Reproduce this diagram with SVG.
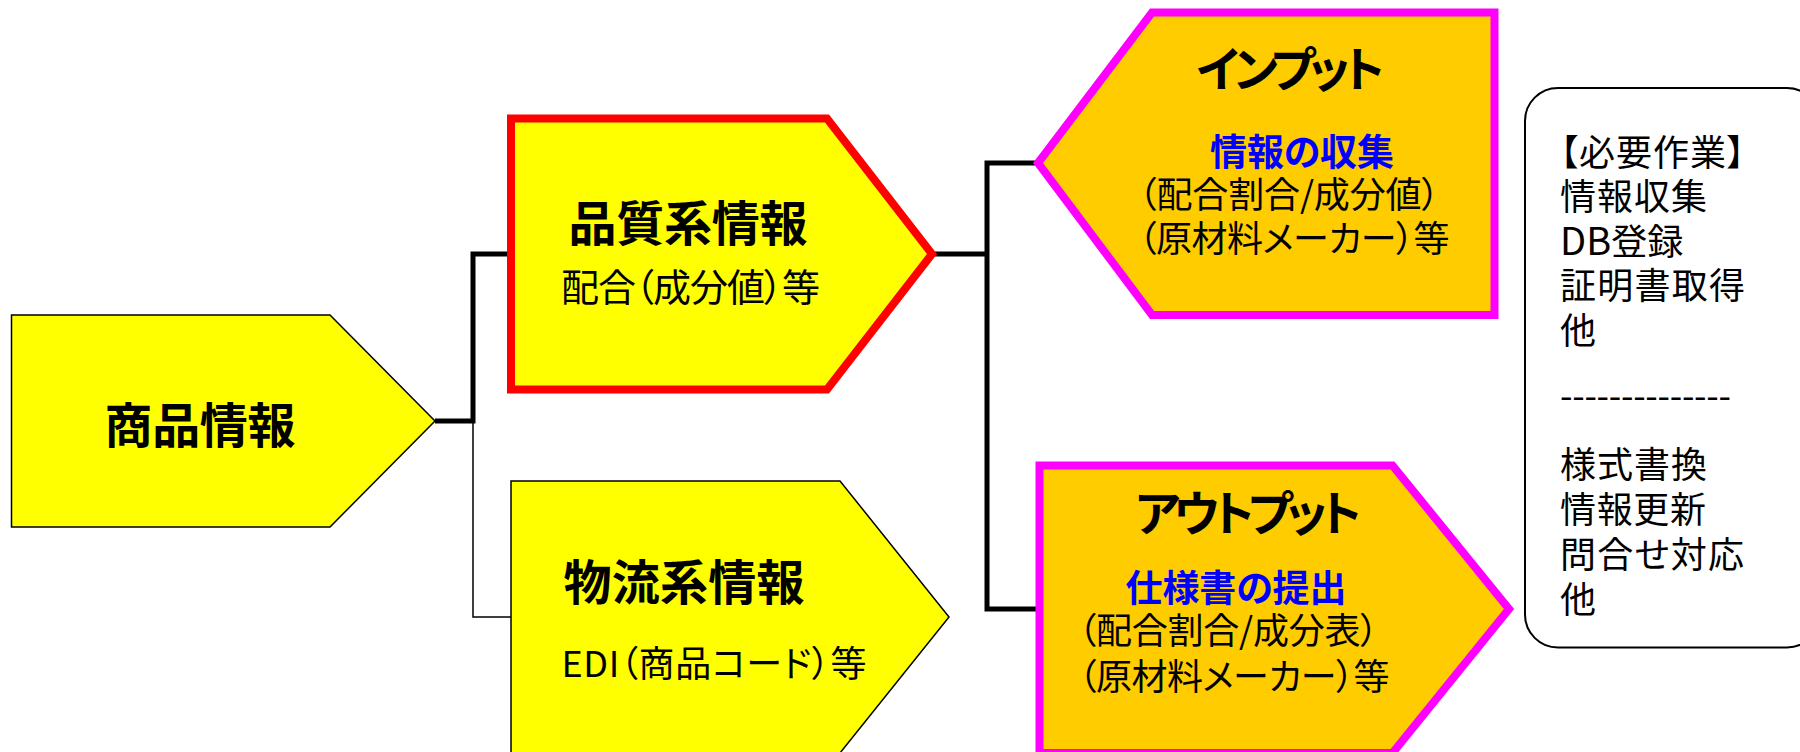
<svg xmlns="http://www.w3.org/2000/svg" width="1800" height="752" viewBox="0 0 1800 752">
<style>
  text { font-family: "Noto Sans CJK JP", "Noto Sans", sans-serif; font-feature-settings: "palt" 1; fill: #000; }
  .h { font-size: 48px; font-weight: 700; text-anchor: middle; }
  .b { font-size: 37px; font-weight: 700; fill: #0000FF; text-anchor: middle; }
  .t { font-size: 36px; font-weight: 400; text-anchor: middle; }
  .l { font-size: 36px; font-weight: 400; text-anchor: start; }
  .yel { fill: #FFFF00; stroke: #000; stroke-width: 1.5; }
  .org { fill: #FFCC00; stroke: #FF00FF; stroke-width: 8; stroke-linejoin: miter; }
  .thick { fill: none; stroke: #000; stroke-width: 5; }
  .thin { fill: none; stroke: #000; stroke-width: 1.5; }
</style>
<rect width="1800" height="752" fill="#FFFFFF"/>
<g id="connectors">
  <path class="thick" d="M435,421 H473 V254 H511"/>
  <path class="thin" d="M473,421 V617 H511"/>
  <path class="thick" d="M932,254 H987"/>
  <path class="thick" d="M1038,163 H987 V609 H1040"/>
</g>
<g id="node-shohin">
  <polygon class="yel" points="11.5,315 330,315 435,421 330,527 11.5,527"/>
  <text class="h" x="200" y="443" textLength="191" lengthAdjust="spacing">商品情報</text>
</g>
<g id="node-hinshitsu">
  <polygon points="511,118.5 827,118.5 932,254 827,389.5 511,389.5" fill="#FFFF00" stroke="#FF0000" stroke-width="8"/>
  <text class="h" x="688" y="240.5" textLength="239" lengthAdjust="spacing">品質系情報</text>
  <text class="t" x="690.5" y="301" style="font-size:38px" textLength="259" lengthAdjust="spacing">配合（成分値）等</text>
</g>
<g id="node-butsuryu">
  <polygon class="yel" points="511,481 840,481 949,617 840,753 511,753"/>
  <text class="h" x="684" y="600.3" textLength="241" lengthAdjust="spacing">物流系情報</text>
  <text class="t" x="714" y="677" textLength="305" lengthAdjust="spacing">EDI（商品コード）等</text>
</g>
<g id="node-input">
  <polygon class="org" points="1038,163 1152,12.5 1494.5,12.5 1494.5,315 1152,315"/>
  <text class="h" x="1290.5" y="87" textLength="188" lengthAdjust="spacing">インプット</text>
  <text class="b" x="1302" y="165.7" textLength="184" lengthAdjust="spacing">情報の収集</text>
  <text class="t" x="1289" y="207.5" textLength="301" lengthAdjust="spacing">（配合割合/成分値）</text>
  <text class="t" x="1294" y="251.5" textLength="311" lengthAdjust="spacing">（原材料メーカー）等</text>
</g>
<g id="node-output">
  <polygon class="org" points="1039.5,465.5 1392.5,465.5 1509,609 1392.5,753 1039.5,753"/>
  <text class="h" x="1248.3" y="530.5" textLength="226" lengthAdjust="spacing">アウトプット</text>
  <text class="b" x="1236" y="602.4" textLength="221" lengthAdjust="spacing">仕様書の提出</text>
  <text class="t" x="1228.3" y="644.2" textLength="300" lengthAdjust="spacing">（配合割合/成分表）</text>
  <text class="t" x="1234" y="690.2" textLength="311" lengthAdjust="spacing">（原材料メーカー）等</text>
</g>
<g id="node-tasks">
  <rect x="1525" y="88" width="295" height="559.5" rx="33" ry="33" fill="#FFFFFF" stroke="#000" stroke-width="2"/>
  <text class="l" x="1560" y="165.5" textLength="185" lengthAdjust="spacing">【必要作業】</text>
  <text class="l" x="1560" y="210" textLength="147" lengthAdjust="spacing">情報収集</text>
  <text class="l" x="1560" y="254.5"><tspan font-size="38">DB</tspan>登録</text>
  <text class="l" x="1560" y="299" textLength="185" lengthAdjust="spacing">証明書取得</text>
  <text class="l" x="1560" y="344">他</text>
  <text class="l" x="1560" y="408.5" textLength="171" lengthAdjust="spacing">--------------</text>
  <text class="l" x="1560" y="478" textLength="147" lengthAdjust="spacing">様式書換</text>
  <text class="l" x="1560" y="523" textLength="146" lengthAdjust="spacing">情報更新</text>
  <text class="l" x="1560" y="568" textLength="184" lengthAdjust="spacing">問合せ対応</text>
  <text class="l" x="1560" y="612.5">他</text>
</g>
</svg>
